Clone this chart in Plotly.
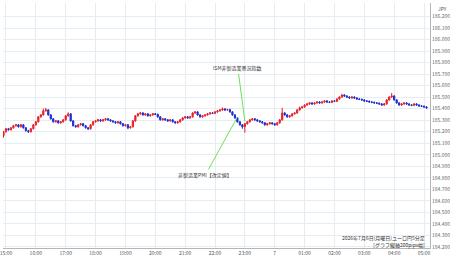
import pandas as pd
import plotly.graph_objects as go

# ---- data (EUR/JPY 5-minute candles) ----
start_time = "2026-07-06 14:55"
first_open = 185.166
closes = [
    185.200, 185.226, 185.217, 185.234, 185.252, 185.260, 185.243, 185.260, 185.234, 185.209,
    185.200, 185.226, 185.260, 185.286, 185.329, 185.346, 185.381, 185.389, 185.346, 185.312,
    185.286, 185.294, 185.277, 185.286, 185.303, 185.338, 185.355, 185.294, 185.252, 185.243,
    185.260, 185.269, 185.252, 185.234, 185.226, 185.260, 185.286, 185.294, 185.303, 185.294,
    185.303, 185.312, 185.303, 185.294, 185.286, 185.277, 185.286, 185.269, 185.252, 185.260,
    185.234, 185.243, 185.294, 185.338, 185.355, 185.363, 185.346, 185.355, 185.338, 185.346,
    185.355, 185.351, 185.329, 185.303, 185.312, 185.303, 185.294, 185.303, 185.286, 185.277,
    185.286, 185.303, 185.320, 185.329, 185.320, 185.329, 185.363, 185.372, 185.346, 185.329,
    185.338, 185.346, 185.355, 185.363, 185.360, 185.372, 185.381, 185.389, 185.398, 185.389,
    185.392, 185.372, 185.346, 185.320, 185.286, 185.260, 185.243, 185.269, 185.286, 185.303,
    185.312, 185.303, 185.294, 185.286, 185.277, 185.260, 185.269, 185.277, 185.269, 185.260,
    185.277, 185.303, 185.363, 185.346, 185.329, 185.338, 185.355, 185.363, 185.389, 185.407,
    185.415, 185.432, 185.441, 185.450, 185.441, 185.450, 185.458, 185.450, 185.458, 185.467,
    185.458, 185.455, 185.467, 185.464, 185.484, 185.501, 185.519, 185.510, 185.501, 185.493,
    185.501, 185.493, 185.484, 185.481, 185.476, 185.467, 185.464, 185.458, 185.455, 185.450,
    185.447, 185.441, 185.432, 185.441, 185.476, 185.501, 185.510, 185.476, 185.450, 185.432,
    185.441, 185.450, 185.441, 185.432, 185.429, 185.441, 185.432, 185.424, 185.421, 185.415,
    185.407,
]
wick = 0.007
high_overrides = {16: 185.400, 17: 185.407, 26: 185.368, 112: 185.407, 119: 185.418,
                  136: 185.528, 156: 185.536, 55: 185.372, 88: 185.410}
low_overrides = {0: 185.148, 96: 185.226, 97: 185.191, 98: 185.262, 34: 185.215,
                 50: 185.222, 10: 185.190}

hour_ticks = ["2026-07-06 %02d:00" % h for h in range(15, 24)] + \
             ["2026-07-07 %02d:00" % h for h in range(0, 6)]
hour_text = ["%02d:00" % h for h in range(15, 24)] + ["7"] + ["%02d:00" % h for h in range(1, 6)]

y_ticks = [184.2 + 0.1 * k for k in range(21)]
y_text = ["%.3f" % v for v in y_ticks]

title_line1 = "2026年7月6日(月曜日)ユーロ円5分足"
title_line2 = "[グラフ縦軸200pips幅]"
event_ism = ("2026-07-06 23:00", 185.29, "ISM非製造業景況指数")
event_pmi = ("2026-07-06 22:45", 185.328, "非製造業PMI【改定値】")

# ---- build ----
times = pd.date_range(start_time, periods=len(closes), freq="5min")
opens = [first_open] + closes[:-1]
highs = [high_overrides.get(i, max(o, c) + wick) for i, (o, c) in enumerate(zip(opens, closes))]
lows = [low_overrides.get(i, min(o, c) - wick) for i, (o, c) in enumerate(zip(opens, closes))]

fig = go.Figure(go.Candlestick(
    x=times, open=opens, high=highs, low=lows, close=closes,
    increasing=dict(line=dict(color="#e8232a", width=1), fillcolor="#e8232a"),
    decreasing=dict(line=dict(color="#1f2fd0", width=1), fillcolor="#1f2fd0"),
    whiskerwidth=0, showlegend=False, hoverinfo="skip",
))

font_jp = "Noto Sans CJK JP"
grid = "#e6edf2"

fig.update_layout(
    width=450, height=258,
    margin=dict(l=0, r=20, t=3, b=10),
    paper_bgcolor="white", plot_bgcolor="white",
    font=dict(family=font_jp, size=5, color="#555"),
    xaxis=dict(
        range=["2026-07-06 14:54", "2026-07-07 05:12"],
        rangeslider=dict(visible=False),
        tickvals=hour_ticks, ticktext=hour_text,
        showgrid=True, gridcolor=grid, gridwidth=1,
        showline=True, linecolor="#b5b5b5", linewidth=1,
        ticks="", tickfont=dict(size=5, color="#555"),
        ticklabeloverflow="allow",
        zeroline=False,
    ),
    yaxis=dict(
        range=[184.191, 186.317], side="right",
        tickvals=y_ticks, ticktext=y_text,
        showgrid=True, gridcolor=grid, gridwidth=1,
        showline=True, linecolor="#b5b5b5", linewidth=1,
        ticks="", tickfont=dict(size=5, color="#666"),
        zeroline=False,
    ),
)

# white mask over the part of the last time label that runs past the price axis
fig.add_annotation(xref="paper", yref="paper", x=1.0, y=0.0, xanchor="left", yanchor="top",
                   xshift=1, yshift=-2, text=" ", width=18, height=8, bgcolor="white",
                   borderpad=0, showarrow=False)

fig.add_annotation(xref="paper", yref="paper", x=1.0, y=1.0, xanchor="left", yanchor="top",
                   xshift=6, yshift=0, text="JPY", showarrow=False,
                   font=dict(size=5, color="#555"))

fig.add_annotation(x=event_ism[0], y=event_ism[1], text=event_ism[2],
                   showarrow=True, arrowhead=0, arrowwidth=1, arrowcolor="#6ee05a",
                   ax=-7, ay=-53, font=dict(size=5, color="#333", family=font_jp))
fig.add_annotation(x=event_pmi[0], y=event_pmi[1], text=event_pmi[2],
                   showarrow=True, arrowhead=0, arrowwidth=1, arrowcolor="#6ee05a",
                   ax=-32, ay=58, font=dict(size=5, color="#333", family=font_jp))

fig.add_annotation(xref="paper", yref="paper", x=0.993, y=0.0, xanchor="right", yanchor="bottom",
                   yshift=-3, text=title_line1 + "<br>" + title_line2, align="right",
                   showarrow=False, font=dict(size=5, color="#333", family=font_jp))

fig.write_html("out.html")
